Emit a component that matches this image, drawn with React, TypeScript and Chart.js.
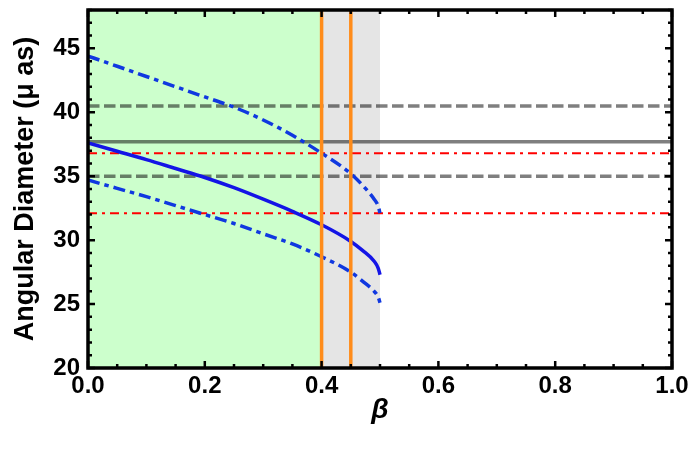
import React, { useEffect, useRef } from "react";
import { Chart, registerables } from "chart.js";

Chart.register(...registerables);

// ---- data ----
const beta = [0, 0.05, 0.1, 0.15, 0.2, 0.25, 0.3, 0.35, 0.4, 0.45, 0.47, 0.49, 0.497, 0.5];
const upperDiameter = [44.4, 43.6, 42.8, 42.0, 41.2, 40.4, 39.4, 38.2, 36.8, 35.2, 34.3, 33.2, 32.65, 32.1];
const centralDiameter = [37.6, 36.95, 36.3, 35.6, 34.9, 34.1, 33.2, 32.25, 31.2, 29.9, 29.2, 28.35, 27.8, 27.3];
const lowerDiameter = [34.7, 34.05, 33.4, 32.7, 32.0, 31.3, 30.5, 29.7, 28.7, 27.5, 26.8, 26.0, 25.55, 25.1];

const grayDashedLevels = [40.5, 35.0];
const graySolidLevels = [37.7];
const redDashDotLevels = [36.8, 32.1];
const orangeBetas = [0.4, 0.45];

const greenRegion = [0, 0.4];
const grayRegion = [0.4, 0.5];

const xRange = [0, 1];
const yRange = [20, 48];
const xTickValues = [0, 0.2, 0.4, 0.6, 0.8, 1.0];
const yTickValues = [20, 25, 30, 35, 40, 45];
const xMinorStep = 0.05;
const yMinorStep = 1;

const FONT = "'Liberation Sans', Arial, Helvetica, sans-serif";

export default function App() {
  const ref = useRef<HTMLCanvasElement>(null);

  useEffect(() => {
    document.body.style.margin = "0";
    const canvas = ref.current;
    if (!canvas) return;

    const hline = (v: number, color: string, width: number, dash: number[], order: number) => ({
      data: [
        { x: xRange[0], y: v },
        { x: xRange[1], y: v },
      ],
      borderColor: color,
      borderWidth: width,
      borderDash: dash,
      pointRadius: 0,
      fill: false,
      order,
      borderCapStyle: "butt" as const,
    });
    const vline = (v: number, color: string, width: number, order: number) => ({
      data: [
        { x: v, y: yRange[0] },
        { x: v, y: yRange[1] },
      ],
      borderColor: color,
      borderWidth: width,
      pointRadius: 0,
      fill: false,
      order,
    });
    const curve = (vals: number[], color: string, dash: number[], order: number) => ({
      data: beta.map((b, i) => ({ x: b, y: vals[i] })),
      borderColor: color,
      borderWidth: 3.5,
      borderDash: dash,
      pointRadius: 0,
      fill: false,
      cubicInterpolationMode: "monotone" as const,
      order,
    });

    const datasets: any[] = [
      ...grayDashedLevels.map((v) => hline(v, "rgba(0,0,0,0.5)", 3.5, [11.5, 4.5], 10)),
      ...graySolidLevels.map((v) => hline(v, "rgba(0,0,0,0.5)", 3.5, [], 10)),
      ...redDashDotLevels.map((v) => hline(v, "#ff0000", 2, [9, 5, 3, 5], 9)),
      curve(upperDiameter, "#1038e0", [12, 5, 4.5, 5], 5),
      curve(centralDiameter, "#1414e6", [], 5),
      curve(lowerDiameter, "#1038e0", [12, 5, 4.5, 5], 5),
      ...orangeBetas.map((v) => vline(v, "#ff8c1a", 3.5, 1)),
    ];

    const bgPlugin = {
      id: "regions",
      beforeDatasetsDraw(chart: any) {
        const { ctx, chartArea, scales } = chart;
        const x = scales.x;
        ctx.save();
        ctx.fillStyle = "#ccffcc";
        const g0 = x.getPixelForValue(greenRegion[0]);
        const g1 = x.getPixelForValue(greenRegion[1]);
        ctx.fillRect(g0, chartArea.top, g1 - g0, chartArea.bottom - chartArea.top);
        ctx.fillStyle = "#e5e5e5";
        const r0 = x.getPixelForValue(grayRegion[0]);
        const r1 = x.getPixelForValue(grayRegion[1]);
        ctx.fillRect(r0, chartArea.top, r1 - r0, chartArea.bottom - chartArea.top);
        ctx.restore();
      },
    };

    const framePlugin = {
      id: "frame",
      afterDatasetsDraw(chart: any) {
        const { ctx, chartArea, scales } = chart;
        const { left, right, top, bottom } = chartArea;
        const xs = scales.x;
        const ys = scales.y;
        ctx.save();
        ctx.strokeStyle = "#000";
        ctx.lineWidth = 2.5;
        const isMajor = (v: number, list: number[]) => list.some((t) => Math.abs(t - v) < 1e-6);
        const nx = Math.round((xRange[1] - xRange[0]) / xMinorStep);
        for (let i = 0; i <= nx; i++) {
          const v = xRange[0] + i * xMinorStep;
          const px = xs.getPixelForValue(v);
          const len = isMajor(v, xTickValues) ? 7 : 4;
          ctx.beginPath();
          ctx.moveTo(px, bottom);
          ctx.lineTo(px, bottom - len);
          ctx.moveTo(px, top);
          ctx.lineTo(px, top + len);
          ctx.stroke();
        }
        const ny = Math.round((yRange[1] - yRange[0]) / yMinorStep);
        for (let i = 0; i <= ny; i++) {
          const v = yRange[0] + i * yMinorStep;
          const py = ys.getPixelForValue(v);
          const len = isMajor(v, yTickValues) ? 7 : 4;
          ctx.beginPath();
          ctx.moveTo(left, py);
          ctx.lineTo(left + len, py);
          ctx.moveTo(right, py);
          ctx.lineTo(right - len, py);
          ctx.stroke();
        }
        ctx.lineWidth = 3.5;
        ctx.strokeRect(left, top, right - left, bottom - top);
        ctx.restore();
      },
    };

    const tickFont = { family: FONT, size: 24, weight: "bold" as const };

    const chart = new Chart(canvas, {
      type: "line",
      data: { datasets },
      options: {
        animation: false,
        responsive: false,
        devicePixelRatio: 1,
        layout: { padding: { left: 0, top: 10, right: 21, bottom: 0 } },
        plugins: { legend: { display: false }, tooltip: { enabled: false } },
        scales: {
          x: {
            type: "linear",
            min: xRange[0],
            max: xRange[1],
            afterBuildTicks: (s: any) => {
              s.ticks = xTickValues.map((v) => ({ value: v }));
            },
            afterFit: (s: any) => {
              s.height = 83;
              s.paddingLeft = 0;
              s.paddingRight = 0;
            },
            grid: { display: false, drawTicks: false },
            border: { display: false },
            ticks: {
              padding: 4,
              color: "#000",
              font: tickFont,
              maxRotation: 0,
              autoSkip: false,
              callback: (v: any) => Number(v).toFixed(1),
            },
            title: {
              display: true,
              text: "β",
              color: "#000",
              font: { family: FONT, size: 28, weight: "bold", style: "italic" },
              padding: { top: 0, bottom: 24 },
            },
          },
          y: {
            type: "linear",
            min: yRange[0],
            max: yRange[1],
            afterBuildTicks: (s: any) => {
              s.ticks = yTickValues.map((v) => ({ value: v }));
            },
            afterFit: (s: any) => {
              s.width = 88;
              s.paddingTop = 0;
              s.paddingBottom = 0;
            },
            grid: { display: false, drawTicks: false },
            border: { display: false },
            ticks: {
              padding: 8,
              color: "#000",
              font: tickFont,
              autoSkip: false,
              callback: (v: any) => String(v),
            },
            title: {
              display: true,
              text: "Angular Diameter (μ as)",
              color: "#000",
              font: { family: FONT, size: 27, weight: "bold" },
              padding: { top: 9, bottom: 0 },
            },
          },
        },
      },
      plugins: [bgPlugin, framePlugin],
    });

    return () => chart.destroy();
  }, []);

  return <canvas ref={ref} width={693} height={451} style={{ display: "block" }} />;
}
